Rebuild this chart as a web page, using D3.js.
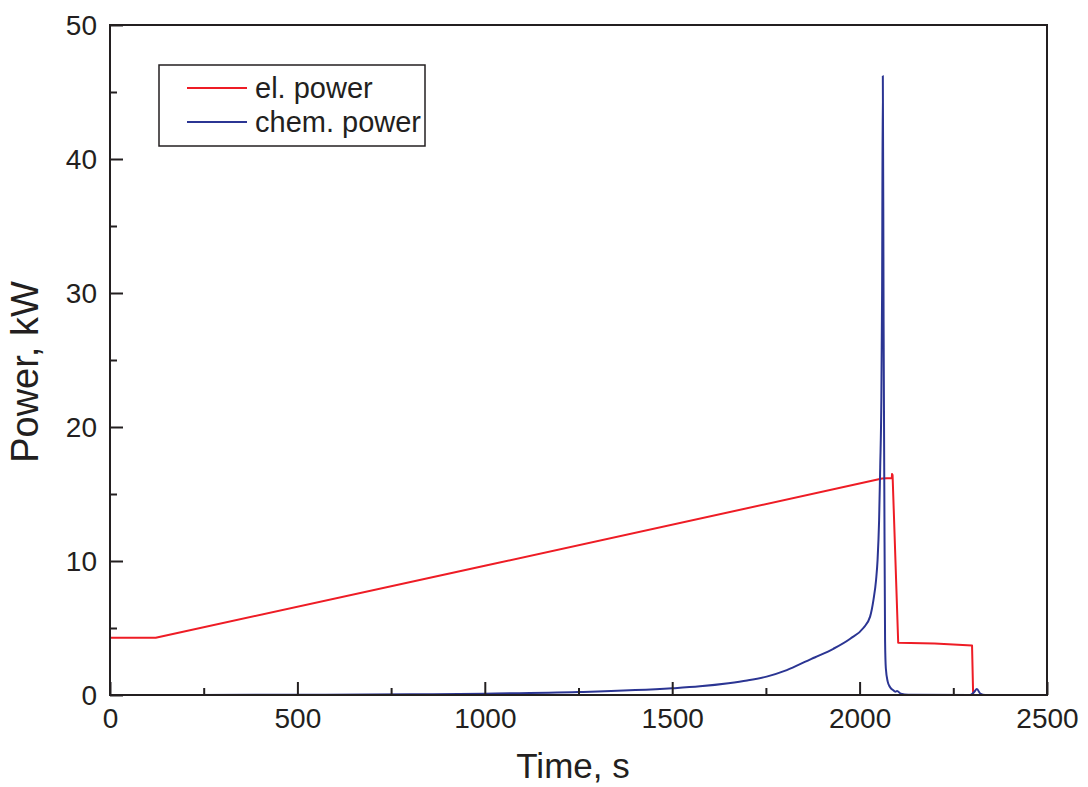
<!DOCTYPE html>
<html>
<head>
<meta charset="utf-8">
<script src="https://cdn.jsdelivr.net/npm/d3@7"></script>
<style>
  body { margin: 0; background: #fff; }
  svg { display: block; font-family: "Liberation Sans", Arial, sans-serif; }
</style>
</head>
<body>
<svg id="chart" width="1088" height="787"></svg>
<script>
// DATA
const elTime  = [0, 122, 1000, 2060, 2086, 2086.5, 2088, 2103, 2200, 2300, 2303, 2500];
const elPower = [4.28, 4.28, 9.64, 16.15, 16.2, 16.5, 16.4, 3.9, 3.85, 3.7, 0, 0];

const chemTime  = [0, 500, 800, 1000, 1250, 1500, 1574, 1650, 1700, 1752, 1800, 1841, 1880, 1930, 1975, 2010, 2028, 2037, 2044, 2048, 2052, 2055, 2058, 2060, 2062, 2064, 2066, 2068, 2070, 2075, 2081, 2090, 2095, 2100, 2110, 2130, 2295, 2305, 2313, 2322, 2335, 2500];
const chemPower = [0, 0.02, 0.05, 0.1, 0.22, 0.5, 0.65, 0.88, 1.08, 1.37, 1.8, 2.3, 2.8, 3.45, 4.2, 5.0, 5.85, 7.1, 8.6, 10.1, 13, 17, 22, 30, 46.2, 28, 15, 4, 2.0, 1.0, 0.6, 0.35, 0.25, 0.3, 0.1, 0.02, 0, 0.2, 0.45, 0.1, 0, 0];

const xMajor = [0, 500, 1000, 1500, 2000, 2500];
const yMajor = [0, 10, 20, 30, 40, 50];

const series = [
  { label: "el. power", color: "#ee1c25", t: elTime, v: elPower, curve: d3.curveLinear },
  { label: "chem. power", color: "#2b3593", t: chemTime, v: chemPower, curve: d3.curveMonotoneX }
];

// LAYOUT
const svg = d3.select("#chart");
const mLeft = 110, mRight = 1047, mTop = 25, mBottom = 695;

const x = d3.scaleLinear().domain([0, 2500]).range([mLeft, mRight]);
const y = d3.scaleLinear().domain([0, 50]).range([mBottom, mTop]);

svg.append("clipPath").attr("id", "clip")
  .append("rect").attr("x", mLeft).attr("y", mTop)
  .attr("width", mRight - mLeft).attr("height", mBottom - mTop);

// LINES
const plot = svg.append("g").attr("clip-path", "url(#clip)");
series.forEach(s => {
  const line = d3.line().x(d => x(d[0])).y(d => y(d[1])).curve(s.curve);
  plot.append("path")
    .datum(s.t.map((t, i) => [t, s.v[i]]))
    .attr("fill", "none")
    .attr("stroke", s.color)
    .attr("stroke-width", 2)
    .attr("stroke-linejoin", "round")
    .attr("d", line);
});

// AXES (ticks point inward)
const ink = "#231f20";
const fs = 28;

const xAxis = d3.axisBottom(x).tickValues(d3.range(0, 2501, 250))
  .tickSize(0).tickFormat(d => xMajor.includes(d) ? d : "");
const gx = svg.append("g").attr("transform", `translate(0,${mBottom})`).call(xAxis);
gx.select(".domain").remove();
gx.selectAll(".tick line").remove();
gx.selectAll(".tick text")
  .attr("y", 13).attr("dy", "0.71em")
  .attr("font-size", fs).attr("fill", ink);
gx.selectAll(".tick").append("line")
  .attr("y1", 0).attr("y2", d => xMajor.includes(d) ? -13 : -7)
  .attr("stroke", ink).attr("stroke-width", 2);

const yAxis = d3.axisLeft(y).tickValues(d3.range(0, 51, 5))
  .tickSize(0).tickFormat(d => yMajor.includes(d) ? d : "");
const gy = svg.append("g").attr("transform", `translate(${mLeft},0)`).call(yAxis);
gy.select(".domain").remove();
gy.selectAll(".tick line").remove();
gy.selectAll(".tick text")
  .attr("x", -13).attr("dy", "0.35em")
  .attr("font-size", fs).attr("fill", ink);
gy.selectAll(".tick").append("line")
  .attr("x1", 0).attr("x2", d => yMajor.includes(d) ? 13 : 7)
  .attr("stroke", ink).attr("stroke-width", 2);

// frame
svg.append("rect")
  .attr("x", mLeft).attr("y", mTop)
  .attr("width", mRight - mLeft).attr("height", mBottom - mTop)
  .attr("fill", "none").attr("stroke", ink).attr("stroke-width", 2);

// TITLES
svg.append("text")
  .attr("x", 573).attr("y", 778)
  .attr("text-anchor", "middle").attr("font-size", 35).attr("fill", ink)
  .text("Time, s");

svg.append("text")
  .attr("transform", "translate(38,372) rotate(-90)")
  .attr("text-anchor", "middle").attr("font-size", 38).attr("fill", ink)
  .text("Power, kW");

// LEGEND
const lg = svg.append("g");
lg.append("rect")
  .attr("x", 159).attr("y", 65).attr("width", 266).attr("height", 81)
  .attr("fill", "#fff").attr("stroke", ink).attr("stroke-width", 1.5);
series.forEach((s, i) => {
  const ly = 88 + i * 34;
  lg.append("line")
    .attr("x1", 187).attr("x2", 247).attr("y1", ly).attr("y2", ly)
    .attr("stroke", s.color).attr("stroke-width", 2);
  lg.append("text")
    .attr("x", 255).attr("y", ly).attr("dy", "0.35em")
    .attr("font-size", 29).attr("fill", ink)
    .text(s.label);
});
</script>
</body>
</html>
